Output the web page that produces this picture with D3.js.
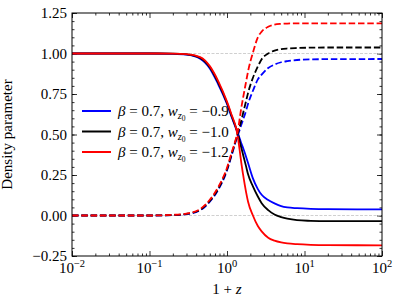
<!DOCTYPE html>
<html>
<head>
<meta charset="utf-8">
<script src="https://cdn.jsdelivr.net/npm/d3@7"></script>
<style>
  body { margin: 0; background: #fff; }
  text { font-family: "Liberation Serif", "DejaVu Serif", serif; }
</style>
</head>
<body>
<div id="chart"></div>
<script>
// 1+z sample points
const onePlusZ = [0.01, 0.1, 0.2, 0.3, 0.45, 0.6, 0.77, 1.0, 1.15, 1.31, 1.39, 1.46, 1.53, 1.61, 1.77, 1.87, 2.16, 2.5, 2.8, 3.4, 4.1, 5.0, 6.0, 8.0, 12, 20, 100];

// solid: dark energy, dashed: matter
const deBlue  = [1.0, 1.0, 0.998, 0.993, 0.968, 0.908, 0.81, 0.688, 0.607, 0.535, 0.505, 0.475, 0.445, 0.418, 0.36, 0.324, 0.229, 0.163, 0.128, 0.095, 0.075, 0.058, 0.05, 0.045, 0.041, 0.039, 0.038];
const deBlack = [1.0, 1.0, 0.999, 0.995, 0.973, 0.915, 0.82, 0.695, 0.613, 0.54, 0.5, 0.458, 0.418, 0.377, 0.3, 0.254, 0.18, 0.117, 0.076, 0.033, 0.006, -0.01, -0.02, -0.029, -0.033, -0.035, -0.035];
const deRed   = [1.0, 1.0, 0.999, 0.996, 0.978, 0.922, 0.83, 0.703, 0.62, 0.54, 0.475, 0.4, 0.325, 0.255, 0.14, 0.085, 0.0, -0.065, -0.098, -0.137, -0.155, -0.166, -0.172, -0.177, -0.181, -0.183, -0.184];

const mBlue  = [0, 0, 0.002, 0.008, 0.032, 0.085, 0.158, 0.278, 0.372, 0.465, 0.5, 0.53, 0.56, 0.59, 0.65, 0.69, 0.77, 0.84, 0.87, 0.91, 0.932, 0.946, 0.953, 0.96, 0.964, 0.965, 0.966];
const mBlack = [0, 0, 0.003, 0.01, 0.035, 0.09, 0.165, 0.285, 0.38, 0.47, 0.51, 0.55, 0.585, 0.63, 0.71, 0.757, 0.85, 0.92, 0.965, 1.0, 1.018, 1.027, 1.031, 1.034, 1.036, 1.037, 1.037];
const mRed   = [0, 0, 0.004, 0.012, 0.04, 0.097, 0.175, 0.295, 0.39, 0.478, 0.53, 0.6, 0.665, 0.725, 0.83, 0.89, 1.005, 1.1, 1.135, 1.165, 1.178, 1.183, 1.185, 1.186, 1.186, 1.186, 1.186];

const wz0 = ["\u22120.9", "\u22121.0", "\u22121.2"];
const colors = ["#0000ff", "#000000", "#ff0000"];

const xMajor = [0.01, 0.1, 1, 10, 100];
const xExp = ["\u22122", "\u22121", "0", "1", "2"];
const yMajor = [-0.25, 0, 0.25, 0.5, 0.75, 1.0, 1.25];

const margin = { top: 13, right: 17, bottom: 48, left: 72 },
  width = 399 - margin.left - margin.right,
  height = 304 - margin.top - margin.bottom;

const svg = d3.select("#chart").append("svg")
  .attr("width", 399).attr("height", 304)
  .append("g")
  .attr("transform", `translate(${margin.left},${margin.top})`);

const x = d3.scaleLog().domain([0.01, 100]).range([0, width]);
const y = d3.scaleLinear().domain([-0.25, 1.25]).range([height, 0]);

// minor ticks
let xMinor = [];
[0.01, 0.1, 1, 10].forEach(d => { for (let k = 2; k <= 9; k++) xMinor.push(d * k); });
let yMinor = d3.range(-0.25, 1.2501, 0.05).map(v => +v.toFixed(2));

function ticks(axisFn, vals, size, transform) {
  const g = svg.append("g").attr("transform", transform)
    .call(axisFn.tickValues(vals).tickSize(size).tickFormat(""));
  g.select(".domain").remove();
  g.selectAll("line").attr("stroke", "#000").attr("stroke-width", 0.8);
  return g;
}
ticks(d3.axisBottom(x), xMinor, -2.5, `translate(0,${height})`);
ticks(d3.axisBottom(x), xMajor, -5, `translate(0,${height})`);
ticks(d3.axisTop(x), xMinor, -2.5, "translate(0,0)");
ticks(d3.axisTop(x), xMajor, -5, "translate(0,0)");
ticks(d3.axisLeft(y), yMinor, -2.5, "translate(0,0)");
ticks(d3.axisLeft(y), yMajor, -5, "translate(0,0)");
ticks(d3.axisRight(y), yMinor, -2.5, `translate(${width},0)`);
ticks(d3.axisRight(y), yMajor, -5, `translate(${width},0)`);

// y labels
svg.selectAll(".ylab").data(yMajor).join("text")
  .attr("x", -5).attr("y", d => y(d) + 5)
  .attr("text-anchor", "end").attr("font-size", 15)
  .text(d => d < 0 ? "\u2212" + (-d).toFixed(2) : d.toFixed(2));

// x labels 10^n
const xl = svg.selectAll(".xlab").data(xMajor).join("text")
  .attr("x", d => x(d)).attr("y", height + 17)
  .attr("text-anchor", "middle").attr("font-size", 15);
xl.append("tspan").text("10");
xl.append("tspan").attr("font-size", 10.5).attr("dy", -6).text((d, i) => xExp[i]);

// reference lines
[0, 1].forEach(v => {
  svg.append("line").attr("x1", 0).attr("x2", width)
    .attr("y1", y(v)).attr("y2", y(v))
    .attr("stroke", "#c4c4c4").attr("stroke-width", 0.8)
    .attr("stroke-dasharray", "3,1.5");
});

const line = d3.line().x(d => x(d[0])).y(d => y(d[1])).curve(d3.curveMonotoneX);

const solid = [deBlue, deBlack, deRed];
const dashed = [mBlue, mBlack, mRed];
[0, 1, 2].forEach(i => {
  svg.append("path").datum(onePlusZ.map((z, j) => [z, solid[i][j]]))
    .attr("d", line).attr("fill", "none")
    .attr("stroke", colors[i]).attr("stroke-width", 1.8);
});
[0, 1, 2].forEach(i => {
  svg.append("path").datum(onePlusZ.map((z, j) => [z, dashed[i][j]]))
    .attr("d", line).attr("fill", "none")
    .attr("stroke", colors[i]).attr("stroke-width", 1.8)
    .attr("stroke-dasharray", "6.5,2.8");
});

// frame
svg.append("rect").attr("width", width).attr("height", height)
  .attr("fill", "none").attr("stroke", "#000").attr("stroke-width", 1);

// axis titles
svg.append("text")
  .attr("x", x(1)).attr("y", height + 38)
  .attr("text-anchor", "middle").attr("font-size", 15)
  .style("white-space", "pre")
  .html('1 + <tspan font-style="italic">z</tspan>');

svg.append("text")
  .attr("transform", `translate(${-60},${height / 2}) rotate(-90)`)
  .attr("text-anchor", "middle").attr("font-size", 15)
  .text("Density parameter");

// legend
const leg = svg.append("g").attr("transform", "translate(10,98)");
wz0.forEach((w, i) => {
  const row = leg.append("g").attr("transform", `translate(0,${i * 20.5})`);
  row.append("line").attr("x1", 0).attr("x2", 29).attr("y1", 0).attr("y2", 0)
    .attr("stroke", colors[i]).attr("stroke-width", 2);
  const t = row.append("text").attr("x", 36).attr("y", 5)
    .attr("font-size", 15).style("white-space", "pre");
  t.append("tspan").attr("font-style", "italic").text("\u03b2");
  t.append("tspan").text(" = 0.7, ");
  t.append("tspan").attr("font-style", "italic").text("w");
  t.append("tspan").attr("font-style", "italic").attr("font-size", 10.5).attr("dy", 3).text("z");
  t.append("tspan").attr("font-size", 7.5).attr("dy", 2).text("0");
  t.append("tspan").attr("dy", -5).text(" = " + w);
});
</script>
</body>
</html>
